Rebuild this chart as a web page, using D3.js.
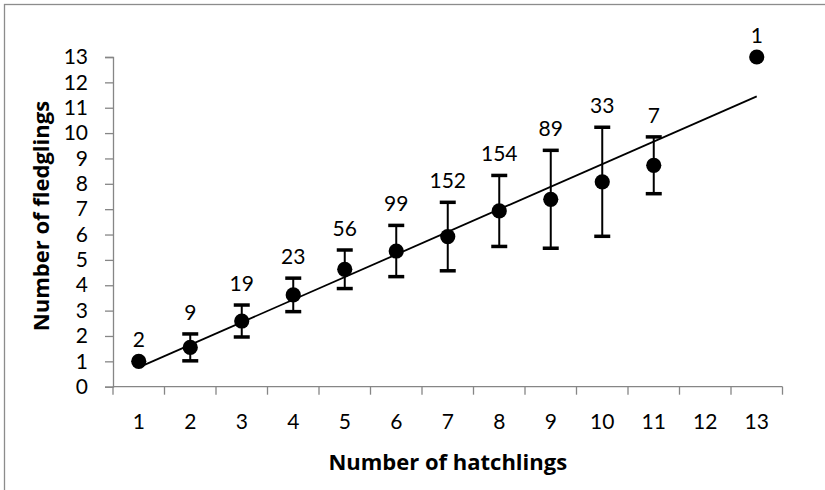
<!DOCTYPE html>
<html>
<head>
<meta charset="utf-8">
<script src="https://cdn.jsdelivr.net/npm/d3@7/dist/d3.min.js"></script>
<style>
  html, body { margin: 0; padding: 0; background: #fff; }
  svg { display: block; }
  text { font-family: Lato, "Open Sans", sans-serif; fill: #000; }
  text.axis-title { font-family: "Open Sans", Lato, sans-serif; font-weight: bold; }
</style>
</head>
<body>
<svg id="chart" width="825" height="490"></svg>
<script>
// Brood size categories (number of hatchlings)
const hatchlings = ["1","2","3","4","5","6","7","8","9","10","11","12","13"];
// Mean number of fledglings per brood size (no broods of 12)
const meanFledglings = [1, 1.55, 2.59, 3.62, 4.63, 5.35, 5.92, 6.93, 7.39, 8.08, 8.73, null, 13];
// Standard deviation shown as error bars
const sdFledglings = [null, 0.53, 0.63, 0.66, 0.76, 1.01, 1.35, 1.40, 1.93, 2.15, 1.12, null, null];
// Number of broods in each category
const broodCounts = [2, 9, 19, 23, 56, 99, 152, 154, 89, 33, 7, null, 1];
// Y axis tick values
const yTicks = d3.range(0, 14);

const svg = d3.select("#chart");
const fontSize = 21;
const titleSize = 22;

// Chart area frame
svg.append("rect")
  .attr("x", 4.5).attr("y", 4.5)
  .attr("width", 840).attr("height", 500)
  .attr("fill", "none").attr("stroke", "#8c8c8c").attr("stroke-width", 1.3);

const plot = { left: 113, right: 782.5, top: 57, bottom: 386.7 };

const x = d3.scaleBand().domain(hatchlings).range([plot.left, plot.right]).padding(0);
const y = d3.scaleLinear().domain([0, 13]).range([plot.bottom, plot.top]);
const cx = d => x(d) + x.bandwidth() / 2;

const axisColor = "#868686";

// Y axis
const yAxis = svg.append("g").attr("transform", `translate(${plot.left},0)`)
  .call(d3.axisLeft(y).tickValues(yTicks).tickSize(8).tickPadding(17).tickFormat(d3.format("d")));
yAxis.select(".domain").attr("stroke", axisColor).attr("stroke-width", 1.3);
yAxis.selectAll(".tick line").attr("stroke", axisColor).attr("stroke-width", 1.3);
yAxis.selectAll(".tick text").attr("font-size", fontSize).attr("font-family", "Lato").attr("fill", "#000");

// X axis: ticks sit between categories
const xAxisG = svg.append("g").attr("transform", `translate(0,${plot.bottom})`);
xAxisG.append("line")
  .attr("x1", plot.left).attr("x2", plot.right)
  .attr("stroke", axisColor).attr("stroke-width", 1.3);
const boundaries = hatchlings.map(d => x(d)).concat([plot.right]);
xAxisG.selectAll("line.tick").data(boundaries).join("line")
  .attr("class", "tick")
  .attr("x1", d => d).attr("x2", d => d)
  .attr("y1", 0).attr("y2", 8)
  .attr("stroke", axisColor).attr("stroke-width", 1.3);
xAxisG.selectAll("text").data(hatchlings).join("text")
  .attr("x", d => cx(d)).attr("y", 42.5)
  .attr("text-anchor", "middle").attr("font-size", fontSize)
  .text(d => d);

// Axis titles
svg.append("text").attr("class", "axis-title")
  .attr("x", (plot.left + plot.right) / 2).attr("y", 470)
  .attr("text-anchor", "middle").attr("font-size", titleSize)
  .text("Number of hatchlings");
svg.append("text").attr("class", "axis-title")
  .attr("transform", "translate(49,216) rotate(-90)")
  .attr("text-anchor", "middle").attr("font-size", titleSize)
  .text("Number of fledglings");

const pts = hatchlings.map((h, i) => ({
  h, i: i + 1, mean: meanFledglings[i], sd: sdFledglings[i], n: broodCounts[i]
})).filter(d => d.mean != null);

// Least-squares trend line through the plotted means
const xm = d3.mean(pts, d => d.i), ym = d3.mean(pts, d => d.mean);
const slope = d3.sum(pts, d => (d.i - xm) * (d.mean - ym)) / d3.sum(pts, d => (d.i - xm) ** 2);
const icpt = ym - slope * xm;
const first = pts[0], last = pts[pts.length - 1];
svg.append("line")
  .attr("x1", cx(first.h)).attr("y1", y(icpt + slope * first.i))
  .attr("x2", cx(last.h)).attr("y2", y(icpt + slope * last.i))
  .attr("stroke", "#000").attr("stroke-width", 1.8);

// Error bars
const eb = svg.append("g");
const withSd = pts.filter(d => d.sd != null);
eb.selectAll("line.stem").data(withSd).join("line")
  .attr("x1", d => cx(d.h)).attr("x2", d => cx(d.h))
  .attr("y1", d => y(d.mean + d.sd)).attr("y2", d => y(d.mean - d.sd))
  .attr("stroke", "#000").attr("stroke-width", 2);
["+", "-"].forEach(sign => {
  eb.selectAll("line.cap" + (sign === "+" ? "u" : "l")).data(withSd).join("line")
    .attr("x1", d => cx(d.h) - 8).attr("x2", d => cx(d.h) + 8)
    .attr("y1", d => y(sign === "+" ? d.mean + d.sd : d.mean - d.sd))
    .attr("y2", d => y(sign === "+" ? d.mean + d.sd : d.mean - d.sd))
    .attr("stroke", "#000").attr("stroke-width", 3.5);
});

// Markers
svg.append("g").selectAll("circle").data(pts).join("circle")
  .attr("cx", d => cx(d.h)).attr("cy", d => y(d.mean)).attr("r", 7.6)
  .attr("fill", "#000");

// Brood counts above each point
svg.append("g").selectAll("text").data(pts).join("text")
  .attr("x", d => cx(d.h))
  .attr("y", d => y(d.mean + (d.sd || 0)) - 21.5)
  .attr("dy", "0.35em")
  .attr("text-anchor", "middle").attr("font-size", fontSize)
  .text(d => d.n);
</script>
</body>
</html>
